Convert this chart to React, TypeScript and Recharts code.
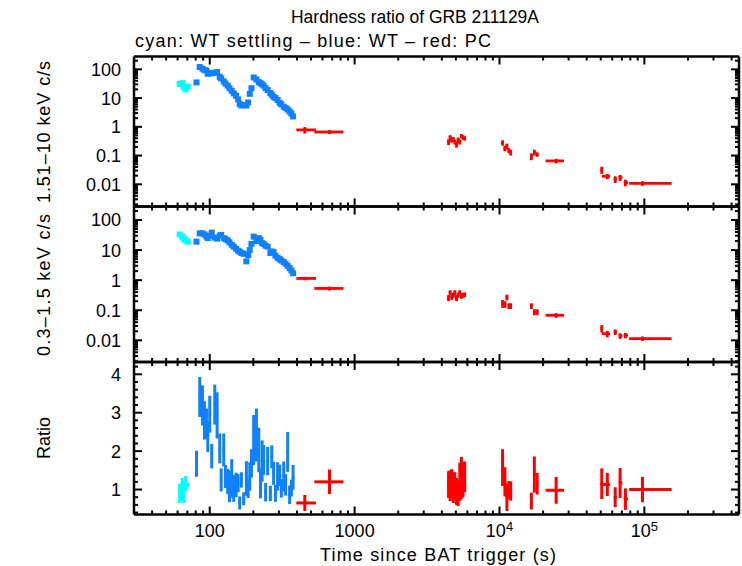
import React from 'react';
import { ComposedChart, Scatter, XAxis, YAxis, ErrorBar } from 'recharts';

// ---------------- data ----------------
const xMajorTicks = [100, 1000, 10000, 100000];
const xMinorTicks = [40, 50, 60, 70, 80, 90, 200, 300, 400, 500, 600, 700, 800, 900, 2000, 3000, 4000, 5000, 6000, 7000, 8000, 9000, 20000, 30000, 40000, 50000, 60000, 70000, 80000, 90000, 200000, 300000, 400000];
const xTickLabels = ['100', '1000', '10^4', '10^5'];

const fluxMajorTicks = [0.01, 0.1, 1, 10, 100];
const fluxMinorTicks = [0.002, 0.003, 0.004, 0.005, 0.006, 0.007, 0.008, 0.009, 0.02, 0.03, 0.04, 0.05, 0.06, 0.07, 0.08, 0.09, 0.2, 0.3, 0.4, 0.5, 0.6, 0.7, 0.8, 0.9, 2, 3, 4, 5, 6, 7, 8, 9, 20, 30, 40, 50, 60, 70, 80, 90, 200];
const fluxTickLabels = ['0.01', '0.1', '1', '10', '100'];

const ratioMajorTicks = [1, 2, 3, 4];
const ratioMinorTicks = [0.4, 0.6, 0.8, 1.2, 1.4, 1.6, 1.8, 2.2, 2.4, 2.6, 2.8, 3.2, 3.4, 3.6, 3.8, 4.2];
const ratioTickLabels = ['1', '2', '3', '4'];

// WT settling (cyan)
const cyanTime = [62, 64.5, 66.2, 68, 70.5];
const cyanHard = [31, 33, 24, 20, 25];
const cyanSoft = [33, 28, 24, 21, 19];
const cyanRatio = [0.9, 1.0, 0.95, 1.15, 1.12];
const cyanRatioErr = [0.25, 0.3, 0.3, 0.2, 0.06];

// WT (blue)
const wtTime = [81, 85.3, 89, 91.9, 94.9, 96.9, 100, 103.2, 108.3, 112.4, 117.2, 119.9, 124.9, 128.3, 133, 136.8, 141.8, 146.4, 152, 157, 161, 165.4, 171.5, 179, 184, 188.8, 194, 201, 210, 218, 224, 229.8, 235.6, 243, 251, 262, 268, 276, 284, 294, 304, 312, 324, 334, 345, 356, 366, 376];
const wtHard = [35, 120, 105, 95, 90, 70, 75, 72, 76, 80, 55, 48, 38, 32, 27, 22, 18, 14.5, 12, 9, 6.2, 5.5, 5.7, 5.5, 7, 14, 22, 52, 44, 36, 33, 30, 27, 22, 19, 15, 13, 11, 10, 8.5, 6.8, 6, 5, 4.5, 4, 3.4, 2.9, 2.3];
const wtSoft = [19, 36, 36, 33, 28, 25, 30, 38, 26, 24, 30, 32, 25, 23, 21, 18, 15, 13, 11, 9.5, 8.8, 8, 7.5, 4.2, 6.8, 10, 16, 28, 20, 25, 22, 17, 16, 14, 13, 8, 9, 8.5, 6.5, 5.5, 5, 4.5, 4, 3.5, 3, 2.5, 2.1, 1.7];
const wtRatio = [1.67, 3.41, 3.19, 2.8, 2.72, 2.37, 2.96, 1.87, 3.21, 2.93, 2.07, 1.25, 2.03, 1.34, 1.21, 1.08, 1.29, 1.03, 1.12, 1.17, 0.65, 1.25, 0.76, 1.29, 1.02, 1.34, 1.68, 2.29, 2.42, 2.03, 1.16, 1.74, 1.77, 0.93, 1.74, 0.9, 1.85, 1.42, 0.9, 1.34, 1.37, 1.03, 1.34, 1.12, 1.98, 0.86, 1.04, 1.32];
const wtRatioErr = [0.34, 0.52, 0.52, 0.5, 0.39, 0.39, 0.48, 0.32, 0.52, 0.6, 0.39, 0.3, 0.43, 0.3, 0.33, 0.41, 0.5, 0.35, 0.32, 0.24, 0.17, 0.2, 0.17, 0.45, 0.24, 0.37, 0.37, 0.65, 0.69, 0.58, 0.39, 0.54, 0.39, 0.24, 0.37, 0.2, 0.3, 0.3, 0.22, 0.37, 0.28, 0.24, 0.39, 0.28, 0.52, 0.24, 0.22, 0.32];

// PC (red)
const pcTime = [453, 671, 4450, 4560, 4680, 4800, 4920, 5050, 5180, 5320, 5460, 5600, 5750, 10500, 10900, 11250, 11600, 11950, 16600, 17400, 18200, 24600, 50800, 55500, 62900, 68000, 74000, 97000];
const pcStart = [396, 527, 4400, 4500, 4620, 4740, 4860, 4990, 5120, 5250, 5390, 5530, 5680, 10350, 10750, 11100, 11450, 11800, 16350, 17150, 17950, 20800, 50000, 50800, 61500, 66500, 72000, 78500];
const pcEnd = [541, 837, 4500, 4620, 4740, 4860, 4990, 5120, 5250, 5390, 5530, 5680, 5820, 10650, 11050, 11400, 11750, 12100, 16850, 17650, 18450, 27900, 51600, 58000, 64500, 70500, 77000, 154000];
const pcHard = [0.78, 0.66, 0.30, 0.43, 0.35, 0.37, 0.30, 0.25, 0.35, 0.30, 0.48, 0.43, 0.40, 0.28, 0.18, 0.21, 0.15, 0.13, 0.094, 0.13, 0.11, 0.065, 0.032, 0.019, 0.015, 0.017, 0.0115, 0.0108];
const pcHardErr = [0.2, 0.1, 0.07, 0.08, 0.07, 0.07, 0.06, 0.06, 0.07, 0.06, 0.08, 0.08, 0.07, 0.06, 0.04, 0.05, 0.03, 0.03, 0.025, 0.03, 0.02, 0.012, 0.009, 0.004, 0.004, 0.004, 0.003, 0.002];
const pcSoft = [1.14, 0.53, 0.26, 0.39, 0.28, 0.32, 0.39, 0.26, 0.32, 0.39, 0.30, 0.32, 0.33, 0.17, 0.16, 0.27, 0.14, 0.14, 0.14, 0.088, 0.088, 0.068, 0.025, 0.0165, 0.019, 0.0141, 0.0146, 0.0114];
const pcSoftErr = [0.15, 0.08, 0.06, 0.07, 0.06, 0.06, 0.07, 0.06, 0.06, 0.07, 0.06, 0.06, 0.06, 0.05, 0.04, 0.06, 0.03, 0.03, 0.03, 0.02, 0.02, 0.012, 0.007, 0.004, 0.004, 0.003, 0.003, 0.002];
const pcRatio = [0.65, 1.2, 1.13, 1.1, 1.15, 1.05, 1.1, 0.95, 0.9, 1.2, 1.3, 1.25, 1.33, 1.57, 1.2, 0.8, 0.98, 0.96, 0.7, 1.39, 1.15, 0.98, 1.15, 1.13, 0.8, 1.17, 0.75, 1.0];
const pcRatioErr = [0.21, 0.32, 0.35, 0.4, 0.38, 0.4, 0.35, 0.35, 0.33, 0.5, 0.55, 0.45, 0.4, 0.48, 0.38, 0.36, 0.24, 0.25, 0.22, 0.47, 0.28, 0.35, 0.4, 0.3, 0.26, 0.39, 0.28, 0.33];

// ---------------- styling / layout ----------------
const W = 742;
const H = 566;
const FONT = '"Liberation Sans", Arial, Helvetica, sans-serif';
const CYAN = '#00ffff';
const BLUE = '#1080ff';
const RED = '#ff0000';
const PLOT_LEFT = 134;
const PLOT_RIGHT = 739;
const X_DOMAIN: [number, number] = [30, 450000];
const MAJOR_LEN = 8;
const MINOR_LEN = 4;
const TICK_FS = 18;

const panels = [
  { top: 56.5, bottom: 206.5 },
  { top: 206.5, bottom: 362 },
  { top: 362, bottom: 514.5 },
];

// ---------------- tables ----------------
const cyanHardData = cyanTime.map((t, i) => ({ t, v: cyanHard[i] }));
const cyanSoftData = cyanTime.map((t, i) => ({ t, v: cyanSoft[i] }));
const cyanRatioData = cyanTime.map((t, i) => ({ t, v: cyanRatio[i], e: cyanRatioErr[i] }));
const wtHardData = wtTime.map((t, i) => ({ t, v: wtHard[i] }));
const wtSoftData = wtTime.map((t, i) => ({ t, v: wtSoft[i] }));
const wtRatioData = wtTime.map((t, i) => ({ t, v: wtRatio[i], e: wtRatioErr[i] }));
const pcX = (i: number, t: number) => [t - pcStart[i], pcEnd[i] - t];
const pcHardData = pcTime.map((t, i) => ({ t, v: pcHard[i], e: pcHardErr[i], xe: pcX(i, t) }));
const pcSoftData = pcTime.map((t, i) => ({ t, v: pcSoft[i], e: pcSoftErr[i], xe: pcX(i, t) }));
const pcRatioData = pcTime.map((t, i) => ({ t, v: pcRatio[i], e: pcRatioErr[i], xe: pcX(i, t) }));

// ---------------- ticks ----------------
function xLabel(x: number, y: number, label: string) {
  const [base, exp] = label.split('^');
  return (
    <text x={x} y={y} textAnchor="middle" fontSize={TICK_FS} fontFamily={FONT} fill="#000">
      {base}
      {exp ? (
        <tspan dy={-6} fontSize={13}>
          {exp}
        </tspan>
      ) : null}
    </text>
  );
}

function makeXTick(side: 'bottom' | 'top', labels: boolean) {
  return (p: any) => {
    const v = p.payload.value;
    const idx = xMajorTicks.indexOf(v);
    const len = idx >= 0 ? MAJOR_LEN : MINOR_LEN;
    const dir = side === 'bottom' ? -1 : 1;
    return (
      <g>
        <line x1={p.x} x2={p.x} y1={p.y} y2={p.y + dir * len} stroke="#000" strokeWidth={2} />
        {labels && idx >= 0 ? xLabel(p.x, p.y + 22, xTickLabels[idx]) : null}
      </g>
    );
  };
}

function makeYTick(side: 'left' | 'right', majors: number[], labels: string[]) {
  return (p: any) => {
    const v = p.payload.value;
    const idx = majors.indexOf(v);
    const len = idx >= 0 ? MAJOR_LEN : MINOR_LEN;
    const dir = side === 'left' ? 1 : -1;
    return (
      <g>
        <line x1={p.x} x2={p.x + dir * len} y1={p.y} y2={p.y} stroke="#000" strokeWidth={2} />
        {side === 'left' && idx >= 0 ? (
          <text x={p.x - 13} y={p.y} dy="0.36em" textAnchor="end" fontSize={TICK_FS} fontFamily={FONT} fill="#000">
            {labels[idx]}
          </text>
        ) : null}
      </g>
    );
  };
}

const square = (p: any) => <rect x={p.cx - 3} y={p.cy - 3} width={6} height={6} fill={p.fill} />;
const tiny = (p: any) => <rect x={p.cx - 1.3} y={p.cy - 1.3} width={2.6} height={2.6} fill={p.fill} />;

function Panel(props: {
  index: number;
  yScale: 'log' | 'linear';
  yDomain: [number, number];
  yMajor: number[];
  yMinor: number[];
  yLabels: string[];
  xLabels: boolean;
  children: React.ReactNode;
}) {
  const P = panels[props.index];
  const axisLine = { stroke: '#000', strokeWidth: 2.5 };
  const xt = [...xMajorTicks, ...xMinorTicks];
  const yt = [...props.yMajor, ...props.yMinor];
  return (
    <div style={{ position: 'absolute', left: 0, top: 0 }}>
      <ComposedChart
        width={W}
        height={H}
        margin={{ top: P.top - 1, bottom: H - P.bottom - 1, left: PLOT_LEFT - 1, right: W - PLOT_RIGHT - 1 }}
      >
        <XAxis
          xAxisId="b"
          dataKey="t"
          type="number"
          scale="log"
          domain={X_DOMAIN}
          allowDataOverflow
          ticks={xt}
          interval={0}
          height={1}
          tickSize={0}
          tickMargin={0}
          tickLine={false}
          axisLine={axisLine}
          tick={makeXTick('bottom', props.xLabels)}
        />
        <XAxis
          xAxisId="t"
          orientation="top"
          dataKey="t"
          type="number"
          scale="log"
          domain={X_DOMAIN}
          allowDataOverflow
          ticks={xt}
          interval={0}
          height={1}
          tickSize={0}
          tickMargin={0}
          tickLine={false}
          axisLine={axisLine}
          tick={makeXTick('top', false)}
        />
        <YAxis
          yAxisId="l"
          dataKey="v"
          type="number"
          scale={props.yScale}
          domain={props.yDomain}
          allowDataOverflow
          ticks={yt}
          interval={0}
          width={1}
          tickSize={0}
          tickMargin={0}
          tickLine={false}
          axisLine={axisLine}
          tick={makeYTick('left', props.yMajor, props.yLabels)}
        />
        <YAxis
          yAxisId="r"
          orientation="right"
          dataKey="v"
          type="number"
          scale={props.yScale}
          domain={props.yDomain}
          allowDataOverflow
          ticks={yt}
          interval={0}
          width={1}
          tickSize={0}
          tickMargin={0}
          tickLine={false}
          axisLine={axisLine}
          tick={makeYTick('right', props.yMajor, props.yLabels)}
        />
        {props.children}
      </ComposedChart>
    </div>
  );
}

function fluxSeries(cyan: any[], wt: any[], pc: any[]) {
  return [
    <Scatter key="c" xAxisId="b" yAxisId="l" data={cyan} fill={CYAN} shape={square} isAnimationActive={false} />,
    <Scatter key="w" xAxisId="b" yAxisId="l" data={wt} fill={BLUE} shape={square} isAnimationActive={false} />,
    <Scatter key="p" xAxisId="b" yAxisId="l" data={pc} fill={RED} shape={tiny} isAnimationActive={false}>
      <ErrorBar dataKey="xe" direction="x" width={0} stroke={RED} strokeWidth={2.8} />
      <ErrorBar dataKey="e" direction="y" width={0} stroke={RED} strokeWidth={2.8} />
    </Scatter>,
  ];
}

export default function App() {
  return (
    <div style={{ position: 'absolute', left: 0, top: 0, width: W, height: H, background: '#fff', fontFamily: FONT }}>
      <Panel index={0} yScale="log" yDomain={[0.00169, 279]} yMajor={fluxMajorTicks} yMinor={fluxMinorTicks} yLabels={fluxTickLabels} xLabels={false}>
        {fluxSeries(cyanHardData, wtHardData, pcHardData)}
      </Panel>
      <Panel index={1} yScale="log" yDomain={[0.0019, 281]} yMajor={fluxMajorTicks} yMinor={fluxMinorTicks} yLabels={fluxTickLabels} xLabels={false}>
        {fluxSeries(cyanSoftData, wtSoftData, pcSoftData)}
      </Panel>
      <Panel index={2} yScale="linear" yDomain={[0.35, 4.32]} yMajor={ratioMajorTicks} yMinor={ratioMinorTicks} yLabels={ratioTickLabels} xLabels={true}>
        {[
          <Scatter key="c" xAxisId="b" yAxisId="l" data={cyanRatioData} fill={CYAN} shape={tiny} isAnimationActive={false}>
            <ErrorBar dataKey="e" direction="y" width={0} stroke={CYAN} strokeWidth={3} />
          </Scatter>,
          <Scatter key="w" xAxisId="b" yAxisId="l" data={wtRatioData} fill={BLUE} shape={tiny} isAnimationActive={false}>
            <ErrorBar dataKey="e" direction="y" width={0} stroke={BLUE} strokeWidth={3} />
          </Scatter>,
          <Scatter key="p" xAxisId="b" yAxisId="l" data={pcRatioData} fill={RED} shape={tiny} isAnimationActive={false}>
            <ErrorBar dataKey="xe" direction="x" width={0} stroke={RED} strokeWidth={3} />
            <ErrorBar dataKey="e" direction="y" width={0} stroke={RED} strokeWidth={3} />
          </Scatter>,
        ]}
      </Panel>
      <svg width={W} height={H} style={{ position: 'absolute', left: 0, top: 0, pointerEvents: 'none' }}>
        <text x={415} y={23} textAnchor="middle" fontSize={18} fontFamily={FONT} fill="#000" textLength={248} lengthAdjust="spacingAndGlyphs">
          Hardness ratio of GRB 211129A
        </text>
        <text x={135} y={47} textAnchor="start" fontSize={18} fontFamily={FONT} fill="#000" textLength={356} lengthAdjust="spacing">
          cyan: WT settling – blue: WT – red: PC
        </text>
        <text transform="translate(50,132) rotate(-90)" textAnchor="middle" fontSize={18} fontFamily={FONT} fill="#000" textLength={142} lengthAdjust="spacing">
          1.51–10 keV c/s
        </text>
        <text transform="translate(50,285) rotate(-90)" textAnchor="middle" fontSize={18} fontFamily={FONT} fill="#000" textLength={142} lengthAdjust="spacing">
          0.3–1.5 keV c/s
        </text>
        <text transform="translate(50,438) rotate(-90)" textAnchor="middle" fontSize={18} fontFamily={FONT} fill="#000">
          Ratio
        </text>
        <text x={438} y={561} textAnchor="middle" fontSize={18} fontFamily={FONT} fill="#000" textLength={236} lengthAdjust="spacing">
          Time since BAT trigger (s)
        </text>
      </svg>
    </div>
  );
}
